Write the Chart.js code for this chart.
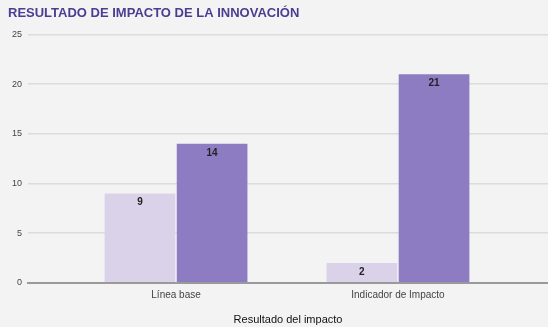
<!DOCTYPE html>
<html>
<head>
<meta charset="utf-8">
<script src="https://cdn.jsdelivr.net/npm/chart.js@4"></script>
<style>
  html, body { margin: 0; padding: 0; background: #f3f3f3; }
  #wrap { width: 548px; height: 327px; position: relative; }
</style>
</head>
<body>
<div id="wrap"><canvas id="chart"></canvas></div>
<script>
const categories = ["Línea base", "Indicador de Impacto"];
const baseValues = [9, 2];
const impactValues = [14, 21];
const yTicks = [0, 5, 10, 15, 20, 25];

const FONT = "'Liberation Sans', Arial, sans-serif";

// value printed just under the top edge of every bar
const barValues = {
  id: "barValues",
  afterDatasetsDraw(chart) {
    const ctx = chart.ctx;
    ctx.save();
    ctx.font = "bold 10px " + FONT;
    ctx.fillStyle = "#222222";
    ctx.textAlign = "center";
    ctx.textBaseline = "middle";
    chart.data.datasets.forEach((ds, i) => {
      chart.getDatasetMeta(i).data.forEach((bar, j) => {
        ctx.fillText(ds.data[j].y, bar.x, bar.y + 9);
      });
    });
    ctx.restore();
  }
};

const toPoints = (arr) => arr.map((v, i) => ({ x: i, y: v }));

new Chart(document.getElementById("chart"), {
  type: "bar",
  data: {
    datasets: [
      {
        label: "Línea base",
        data: toPoints(baseValues),
        backgroundColor: "#d9d2e9",
        categoryPercentage: 0.65,
        barPercentage: 0.98
      },
      {
        label: "Indicador",
        data: toPoints(impactValues),
        backgroundColor: "#8e7cc3",
        categoryPercentage: 0.65,
        barPercentage: 0.98
      }
    ]
  },
  options: {
    responsive: true,
    maintainAspectRatio: false,
    animation: false,
    layout: { padding: { left: 8, right: 0, top: 0, bottom: 0 } },
    plugins: {
      legend: { display: false },
      tooltip: { enabled: false },
      title: {
        display: true,
        text: "RESULTADO DE IMPACTO DE LA INNOVACIÓN",
        align: "start",
        color: "#4a3d92",
        font: { family: FONT, size: 13, weight: "bold" },
        padding: { top: 6, bottom: 13 }
      }
    },
    scales: {
      x: {
        type: "linear",
        offset: false,
        min: -0.667,
        max: 1.676,
        afterBuildTicks: (scale) => {
          scale.ticks = categories.map((c, i) => ({ value: i }));
        },
        grid: { display: false, drawTicks: false, offset: false },
        border: { display: true, color: "#9a9a9a", width: 2 },
        ticks: {
          color: "#444444",
          font: { family: FONT, size: 10 },
          padding: 6,
          maxRotation: 0,
          callback: (v) => categories[v]
        },
        title: {
          display: true,
          text: "Resultado del impacto",
          color: "#111111",
          font: { family: FONT, size: 11 },
          padding: { top: 7, bottom: 0 }
        }
      },
      y: {
        min: 0,
        max: 25,
        afterBuildTicks: (scale) => {
          scale.ticks = yTicks.map((v) => ({ value: v }));
        },
        afterFit: (scale) => { scale.width = 20; },
        grid: { color: "#dcdcdc", lineWidth: 1.5, drawTicks: false },
        border: { display: false },
        ticks: {
          color: "#444444",
          font: { family: FONT, size: 9 },
          padding: 6
        }
      }
    }
  },
  plugins: [barValues]
});
</script>
</body>
</html>
